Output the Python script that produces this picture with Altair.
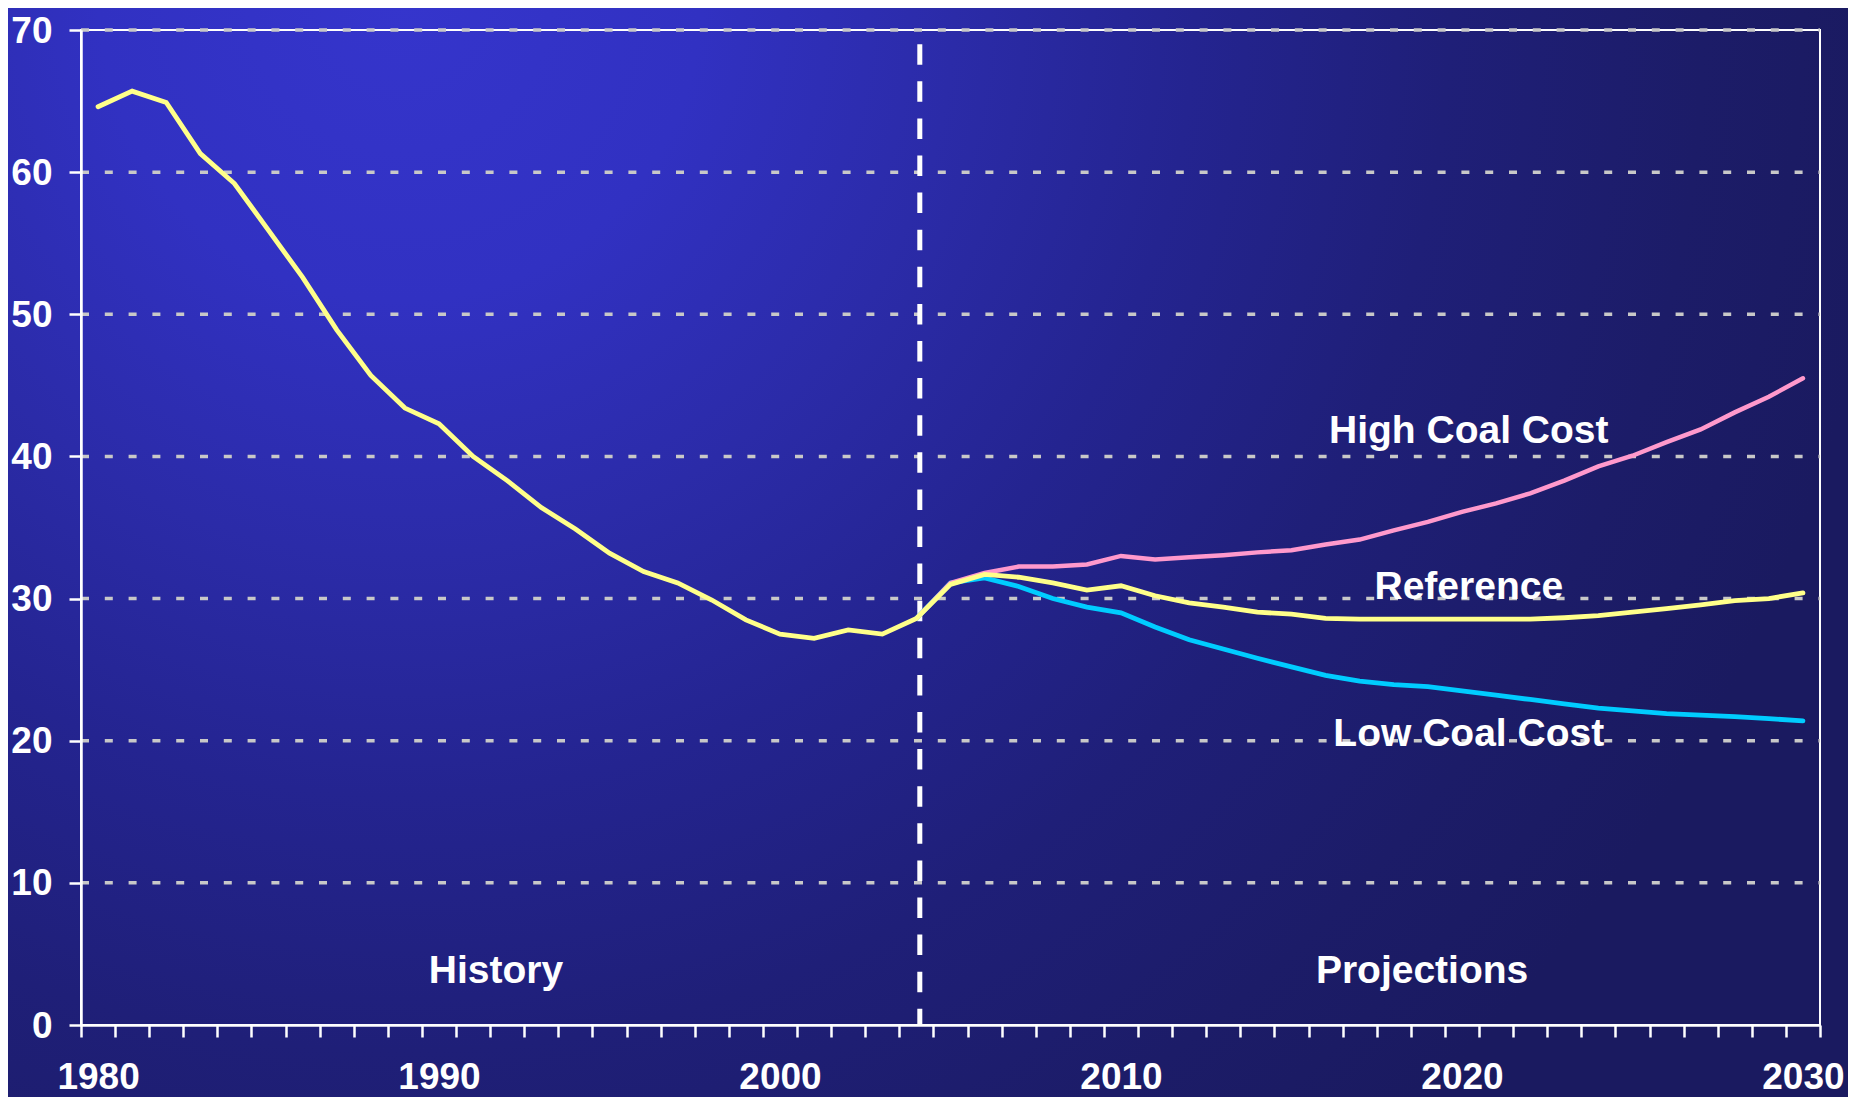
import altair as alt
import pandas as pd

# ---------------- data ----------------
years_history = list(range(1980, 2005))
history = [64.6, 65.7, 64.9, 61.3, 59.2, 55.9, 52.6, 48.9, 45.7, 43.4,
           42.3, 40.0, 38.3, 36.4, 34.9, 33.2, 31.9, 31.1, 29.9, 28.5,
           27.5, 27.2, 27.8, 27.5, 28.6]

years_projection = list(range(2004, 2031))
reference_case = [28.6, 31.0, 31.7, 31.5, 31.1, 30.6, 30.9, 30.2, 29.7, 29.4,
                  29.05, 28.9, 28.6, 28.55, 28.55, 28.55, 28.55, 28.55, 28.55, 28.65,
                  28.8, 29.05, 29.3, 29.55, 29.85, 30.0, 30.4]
high_coal_cost = [28.6, 31.1, 31.8, 32.25, 32.25, 32.4, 33.0, 32.75, 32.9, 33.05,
                  33.25, 33.4, 33.8, 34.15, 34.8, 35.4, 36.1, 36.7, 37.4, 38.3,
                  39.3, 40.05, 41.0, 41.9, 43.1, 44.2, 45.5]
low_coal_cost = [28.6, 31.1, 31.45, 30.85, 30.0, 29.4, 29.0, 28.0, 27.1, 26.45,
                 25.8, 25.2, 24.6, 24.2, 23.95, 23.8, 23.5, 23.2, 22.9, 22.6,
                 22.3, 22.1, 21.9, 21.8, 21.7, 21.55, 21.4]

y_ticks = [0, 10, 20, 30, 40, 50, 60, 70]
x_labels = [1980, 1990, 2000, 2010, 2020, 2030]
x_category_edges = [1979.5 + i for i in range(52)]
divider_year = 2004.1
divider_top = 69

annotation_text = ["High Coal Cost", "Reference", "Low Coal Cost", "History", "Projections"]
annotation_x = [2020.2, 2020.2, 2020.2, 1991.67, 2018.83]
annotation_y = [40.93, 29.98, 19.66, 2.93, 2.93]

# ---------------- tables ----------------
ref_years = years_history + years_projection[1:]
ref_values = history + reference_case[1:]
df_ref = pd.DataFrame({"year": ref_years, "value": ref_values})
df_high = pd.DataFrame({"year": years_projection, "value": high_coal_cost})
df_low = pd.DataFrame({"year": years_projection, "value": low_coal_cost})
df_grid = pd.DataFrame({"value": y_ticks[1:]})
df_ann = pd.DataFrame({"label": annotation_text, "year": annotation_x, "value": annotation_y})
df_div = pd.DataFrame({"year": [divider_year], "value": [divider_top], "value2": [0]})

W, H = 1739, 995
PAD_L, PAD_T, PAD_R, PAD_B = 73, 22, 28, 72
FONT = "Liberation Sans"

xs = alt.Scale(domain=[1979.5, 2030.5], nice=False, zero=False)
ys = alt.Scale(domain=[0, 70], nice=False, zero=True)

x_axis = alt.Axis(
    values=x_category_edges + x_labels,
    labelExpr="datum.value % 10 === 0 ? format(datum.value, 'd') : ''",
    labelOverlap=False, labelFlush=False,
    labelFont=FONT, labelFontSize=37, labelFontWeight="bold", labelColor="white",
    labelPadding=22, tickSize=12, tickWidth=2.5, tickColor="white",
    tickOpacity={"condition": {"test": "datum.value % 10 === 0", "value": 0}, "value": 1},
    domainColor="white", domainWidth=2.5, grid=False, title=None, zindex=1,
)
y_axis = alt.Axis(
    values=y_ticks, format="d",
    labelFont=FONT, labelFontSize=37, labelFontWeight="bold", labelColor="white",
    labelPadding=17, labelOffset=1, tickSize=12, tickWidth=2.5, tickColor="white",
    domainColor="white", domainWidth=2.5, grid=False, title=None, zindex=1,
)


def X(field="year:Q"):
    return alt.X(field, scale=xs, axis=x_axis)


def Y(field="value:Q"):
    return alt.Y(field, scale=ys, axis=y_axis)


gradient = {
    "gradient": "radial",
    "x1": 0.213, "y1": 0.2, "r1": 0,
    "x2": 0.213, "y2": 0.2, "r2": 0.815,
    "stops": [
        {"offset": 0.0, "color": "#3535CC"},
        {"offset": 0.2, "color": "#3131C2"},
        {"offset": 0.37, "color": "#2B2BA8"},
        {"offset": 0.53, "color": "#242490"},
        {"offset": 0.7, "color": "#1F1F78"},
        {"offset": 0.87, "color": "#1C1C68"},
        {"offset": 1.0, "color": "#1A1A60"},
    ],
}

one = pd.DataFrame({"k": [0]})

bg = alt.Chart(one).mark_rect(fill=gradient, strokeWidth=0).encode(
    x=alt.value(-PAD_L), x2=alt.value(W + PAD_R),
    y=alt.value(-PAD_T), y2=alt.value(H + PAD_B),
)

frame = alt.Chart(one).mark_rect(fillOpacity=0, stroke="white", strokeWidth=2).encode(
    x=alt.value(0), x2=alt.value(W), y=alt.value(0), y2=alt.value(H)
)

grid = alt.Chart(df_grid).mark_rule(color="#C8C8C8", strokeWidth=3.5, strokeDash=[8, 15.8]).encode(
    y=Y(), x=alt.value(0), x2=alt.value(W)
)

divider = alt.Chart(df_div).mark_rule(color="white", strokeWidth=5, strokeDash=[20.5, 16.6]).encode(
    x=X(), y=Y(), y2="value2:Q"
)

low_line = alt.Chart(df_low).mark_line(color="#00CCFF", strokeWidth=4.8, strokeCap="round").encode(
    x=X(), y=Y()
)
high_line = alt.Chart(df_high).mark_line(color="#FF99CC", strokeWidth=4.5, strokeCap="round").encode(
    x=X(), y=Y()
)
ref_line = alt.Chart(df_ref).mark_line(color="#FFFF8A", strokeWidth=4.8, strokeCap="round").encode(
    x=X(), y=Y()
)

labels = alt.Chart(df_ann).mark_text(
    font=FONT, fontSize=39, fontWeight="bold", color="white", align="center", baseline="alphabetic"
).encode(
    x=X(), y=Y(), text="label:N"
)

chart = alt.layer(bg, frame, grid, divider, low_line, high_line, ref_line, labels).properties(
    width=W, height=H,
    autosize=alt.AutoSizeParams(type="none"),
    padding={"left": PAD_L, "top": PAD_T, "right": PAD_R, "bottom": PAD_B},
    background="#1B1B68",
).configure_view(stroke=None)

chart.save("out.html", embed_options={"renderer": "svg", "actions": False})
